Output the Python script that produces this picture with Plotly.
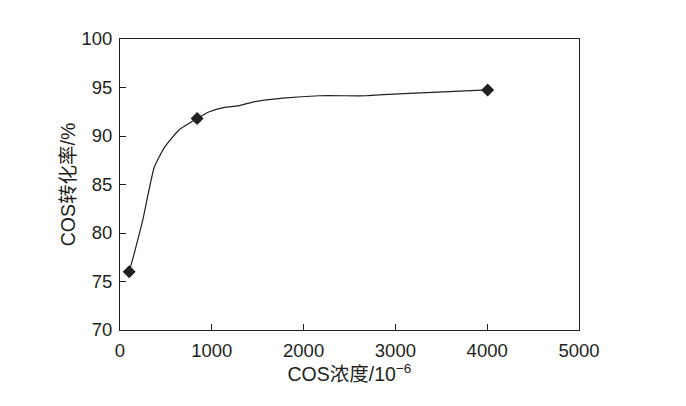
import plotly.graph_objects as go

# Measured points (markers)
conc_points = [100, 840, 4005]
conv_points = [76.0, 91.8, 94.75]

curve_x = [100, 155, 247, 374, 483, 640, 840, 974, 1137, 1282, 1446, 1773, 2173, 2682, 3155, 4005]
curve_y = [76.0, 77.9, 81.3, 86.8, 88.8, 90.6, 91.8, 92.5, 92.95, 93.1, 93.5, 93.9, 94.15, 94.15, 94.4, 94.75]

x_ticks = [0, 1000, 2000, 3000, 4000, 5000]
y_ticks = [70, 75, 80, 85, 90, 95, 100]

font_family = "Liberation Sans, Arial, Noto Sans CJK SC, sans-serif"
ink = "#231f20"

fig = go.Figure()
fig.add_trace(go.Scatter(
    x=curve_x, y=curve_y, mode="lines",
    line=dict(color=ink, width=1.2, shape="spline", smoothing=0.5),
    hoverinfo="skip", showlegend=False))
fig.add_trace(go.Scatter(
    x=conc_points, y=conv_points, mode="markers",
    marker=dict(symbol="diamond", size=10, color=ink),
    showlegend=False))

axis_common = dict(
    showgrid=False, zeroline=False, showline=True, linecolor=ink, linewidth=1,
    mirror=True, ticks="inside", ticklen=6, tickcolor=ink, tickwidth=1,
    tickfont=dict(family=font_family, size=18.5, color=ink),
)

fig.update_layout(
    width=686, height=406,
    margin=dict(l=112, r=115, t=31, b=84),
    paper_bgcolor="white", plot_bgcolor="white",
    font=dict(family=font_family, color=ink),
    xaxis=dict(range=[0, 5000], tickvals=x_ticks, ticktext=[str(v) for v in x_ticks],
               ticklabelstandoff=4,
               title=dict(text="COS浓度/10<sup>−6</sup>", font=dict(size=19.5, family=font_family, color=ink), standoff=6),
               **axis_common),
    yaxis=dict(range=[70, 100], tickvals=y_ticks, ticktext=[str(v) for v in y_ticks],
               ticklabelstandoff=3,
               title=dict(text="COS转化率/%", font=dict(size=19.5, family=font_family, color=ink), standoff=0),
               **axis_common),
)

fig.write_html("out.html")
